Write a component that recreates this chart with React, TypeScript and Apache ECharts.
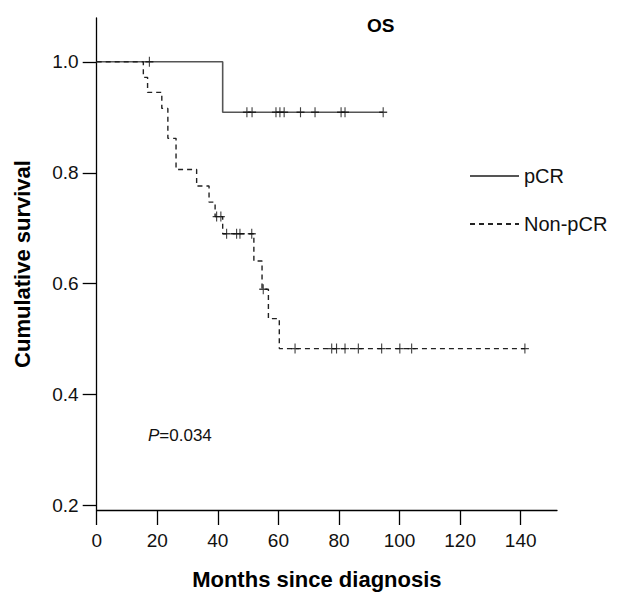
import React, { useEffect, useRef } from "react";
import * as echarts from "echarts";

const xTicks = [0, 20, 40, 60, 80, 100, 120, 140];
const yTicks = [0.2, 0.4, 0.6, 0.8, 1.0];

// pCR group (step curve: time of event, survival after it)
const pcrTimes = [0, 41.6, 94.6];
const pcrSurv = [1.0, 0.909, 0.909];
const pcrCensorTimes = [17.4, 49.6, 51.3, 59.2, 60.5, 61.9, 67.3, 72.1, 80.7, 82.0, 94.6];
const pcrCensorSurv = [1.0, 0.909, 0.909, 0.909, 0.909, 0.909, 0.909, 0.909, 0.909, 0.909, 0.909];

// Non-pCR group
const nonTimes = [0, 15.4, 16.8, 21.5, 23.5, 26.2, 33.0, 37.1, 39.1, 41.6, 51.9, 54.6, 56.7, 60.3, 141.4];
const nonSurv = [1.0, 0.972, 0.945, 0.916, 0.862, 0.806, 0.776, 0.747, 0.721, 0.69, 0.641, 0.59, 0.537, 0.483, 0.483];
const nonCensorTimes = [39.6, 41.0, 42.9, 46.2, 47.3, 51.2, 55.0, 65.5, 77.6, 79.2, 82.0, 86.4, 94.1, 100.1, 104.0, 141.4];
const nonCensorSurv = [0.721, 0.721, 0.69, 0.69, 0.69, 0.69, 0.59, 0.483, 0.483, 0.483, 0.483, 0.483, 0.483, 0.483, 0.483, 0.483];

const FONT = '"Liberation Sans", Arial, Helvetica, sans-serif';
const PLUS = "path://M4.3,0 H5.7 V4.3 H10 V5.7 H5.7 V10 H4.3 V5.7 H0 V4.3 H4.3 Z";

const zip = (a: number[], b: number[]) => a.map((v, i) => [v, b[i]]);

const legendBase = {
  left: 464,
  itemWidth: 49,
  itemHeight: 14,
  itemGap: 9,
  itemStyle: { color: "rgba(0,0,0,0)", borderWidth: 0, opacity: 0 },
  textStyle: { fontFamily: FONT, fontSize: 20, color: "#111" },
};

export default function App() {
  const ref = useRef<HTMLDivElement>(null);
  useEffect(() => {
    if (!ref.current) return;
    const chart = echarts.init(ref.current, undefined, { renderer: "svg" });
    chart.setOption({
      animation: false,
      backgroundColor: "#ffffff",
      textStyle: { fontFamily: FONT },
      title: {
        text: "OS",
        left: 362,
        top: 11,
        textStyle: { fontFamily: FONT, fontWeight: "bold", fontSize: 19, color: "#000" },
      },
      grid: { left: 96.7, top: 18, right: 62, bottom: 81, containLabel: false },
      legend: [
        { ...legendBase, data: ["pCR"], top: 161 },
        { ...legendBase, data: ["Non-pCR"], top: 209 },
      ],
      xAxis: {
        type: "value",
        min: 0,
        max: 152,
        interval: 20,
        name: "Months since diagnosis",
        nameLocation: "middle",
        nameGap: 58,
        nameTextStyle: { fontFamily: FONT, fontWeight: "bold", fontSize: 22, color: "#000", padding: [0, 20, 0, 0] },
        axisLine: { lineStyle: { color: "#000", width: 1.3 } },
        axisTick: { length: 15, lineStyle: { color: "#000", width: 1.3 }, customValues: xTicks },
        axisLabel: { margin: 21, fontSize: 19, color: "#111", fontFamily: FONT, customValues: xTicks },
        splitLine: { show: false },
      },
      yAxis: {
        type: "value",
        min: 0.192,
        max: 1.079,
        name: "Cumulative survival",
        nameLocation: "middle",
        nameGap: 63,
        nameTextStyle: { fontFamily: FONT, fontWeight: "bold", fontSize: 22, color: "#000" },
        axisLine: { lineStyle: { color: "#000", width: 1.3 } },
        axisTick: { length: 14, lineStyle: { color: "#000", width: 1.3 }, customValues: yTicks },
        axisLabel: {
          margin: 18,
          fontSize: 19,
          color: "#111",
          fontFamily: FONT,
          customValues: yTicks,
          formatter: (v: number) => v.toFixed(1),
        },
        splitLine: { show: false },
      },
      graphic: [
        {
          type: "text",
          left: 148,
          top: 427,
          style: {
            text: "{i|P}=0.034",
            font: `17px ${FONT}`,
            fill: "#111",
            rich: { i: { fontStyle: "italic", fontSize: 17, fontFamily: FONT, fill: "#111" } },
          },
        },
      ],
      series: [
        {
          name: "pCR",
          type: "line",
          step: "end",
          data: zip(pcrTimes, pcrSurv),
          showSymbol: false,
          symbol: "none",
          lineStyle: { color: "#555", width: 1.6, type: "solid" },
          itemStyle: { color: "#555" },
          z: 3,
        },
        {
          name: "Non-pCR",
          type: "line",
          step: "end",
          data: zip(nonTimes, nonSurv),
          showSymbol: false,
          symbol: "none",
          lineStyle: { color: "#222", width: 1.4, type: [5, 4] },
          itemStyle: { color: "#222" },
          z: 3,
        },
        {
          name: "pCR censored",
          type: "scatter",
          data: zip(pcrCensorTimes, pcrCensorSurv),
          symbol: PLUS,
          symbolSize: [8, 10],
          itemStyle: { color: "#111" },
          z: 4,
        },
        {
          name: "Non-pCR censored",
          type: "scatter",
          data: zip(nonCensorTimes, nonCensorSurv),
          symbol: PLUS,
          symbolSize: [8, 10],
          itemStyle: { color: "#111" },
          z: 4,
        },
      ],
    });
    return () => chart.dispose();
  }, []);
  return <div ref={ref} style={{ position: "absolute", left: 0, top: 0, width: 619, height: 595 }} />;
}
